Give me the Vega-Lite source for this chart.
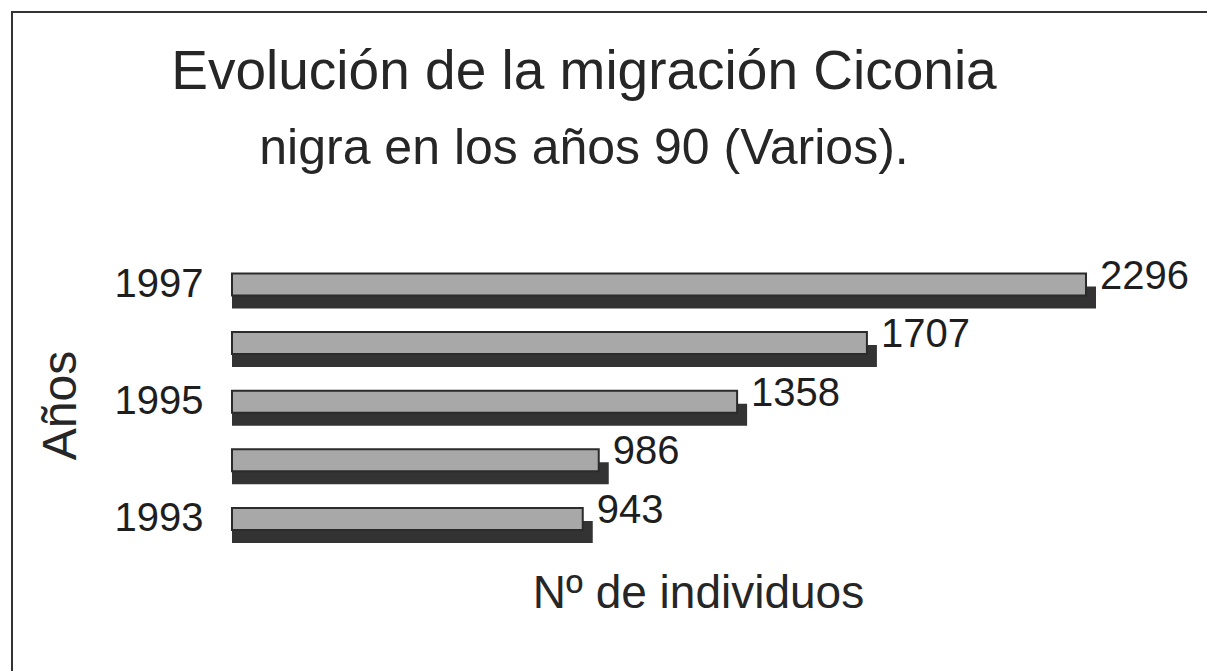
{
  "$schema": "https://vega.github.io/schema/vega-lite/v6.json",
  "autosize": {"type": "none"},
  "padding": {"left": 12, "top": 12, "right": -3, "bottom": -3},
  "width": 1198,
  "height": 662,
  "background": "white",
  "config": {
    "view": {"stroke": "#333333", "strokeWidth": 2},
    "font": "Liberation Sans"
  },
  "title": {
    "text": "Evolución de la migración Ciconia",
    "subtitle": "nigra en los años 90 (Varios).",
    "fontSize": 55,
    "fontWeight": "normal",
    "font": "Liberation Sans",
    "color": "#262626",
    "subtitleFontSize": 50,
    "subtitleFont": "Liberation Sans",
    "subtitleColor": "#262626",
    "subtitleLineHeight": 60,
    "subtitlePadding": 20,
    "anchor": "middle",
    "frame": "group",
    "baseline": "alphabetic",
    "orient": "top",
    "offset": -206,
    "dx": -27
  },
  "data": {
    "values": [
      {"year": 1997, "n": 2296},
      {"year": 1996, "n": 1707},
      {"year": 1995, "n": 1358},
      {"year": 1994, "n": 986},
      {"year": 1993, "n": 943}
    ]
  },
  "encoding": {
    "y": {
      "field": "year",
      "type": "ordinal",
      "sort": "descending",
      "scale": {"paddingInner": 0, "paddingOuter": 0, "range": [243.2, 536.2]},
      "axis": {
        "values": [1997, 1995, 1993],
        "offset": -191,
        "ticks": false,
        "domain": false,
        "grid": false,
        "labelPadding": 0,
        "labelFontSize": 40,
        "labelColor": "#1e1e1e",
        "labelFont": "Liberation Sans",
        "title": "Años",
        "titleFontSize": 48,
        "titleFontWeight": "normal",
        "titleFont": "Liberation Sans",
        "titleColor": "#262626",
        "titlePadding": 29,
        "titleY": 393
      }
    }
  },
  "layer": [
    {
      "mark": {"type": "bar", "height": 22, "fill": "#333333", "xOffset": 10, "yOffset": 13},
      "encoding": {
        "x": {
          "field": "n",
          "type": "quantitative",
          "scale": {"domain": [-591.5, 2629.4], "nice": false, "zero": false},
          "axis": {
            "labels": false,
            "ticks": false,
            "domain": false,
            "grid": false,
            "title": "Nº de individuos",
            "titleFontSize": 46,
            "titleFontWeight": "normal",
            "titleFont": "Liberation Sans",
            "titleColor": "#262626",
            "titlePadding": 0,
            "offset": -103,
            "titleX": 686
          }
        },
        "x2": {"datum": 0}
      }
    },
    {
      "mark": {"type": "bar", "height": 22, "fill": "#a8a8a8", "stroke": "#2b2b2b", "strokeWidth": 2},
      "encoding": {
        "x": {"field": "n", "type": "quantitative"},
        "x2": {"datum": 0}
      }
    },
    {
      "mark": {"type": "text", "align": "left", "baseline": "middle", "dx": 14, "dy": -8, "fontSize": 40, "font": "Liberation Sans", "fill": "#1e1e1e"},
      "encoding": {
        "x": {"field": "n", "type": "quantitative"},
        "text": {"field": "n", "type": "quantitative", "format": "d"}
      }
    }
  ]
}
